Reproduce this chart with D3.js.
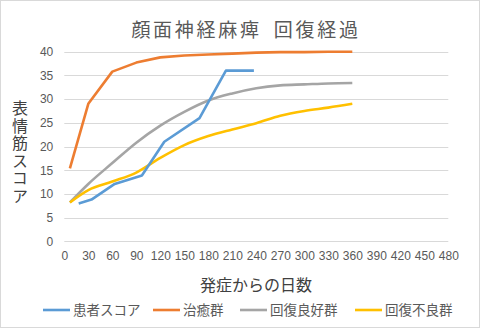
<!DOCTYPE html>
<html><head><meta charset="utf-8">
<script src="https://cdn.jsdelivr.net/npm/d3@7"></script>
<style>
html,body{margin:0;padding:0;background:#fff;}
svg{display:block;}
</style></head>
<body>
<svg id="c" width="480" height="328"></svg>
<script>
const seriesNames = ["患者スコア","治癒群","回復良好群","回復不良群"];
const seriesColors = ["#5B9BD5","#ED7D31","#A5A5A5","#FFC000"];
const patientDays = [18,34,63,97,125,169,202,237];
const patientScore = [8.0,8.8,12.1,13.9,21,26,36,36];
const groupDays = [7,30,60,90,120,150,180,210,240,270,300,330,360];
const curedScore = [15.4,29,35.8,37.7,38.8,39.2,39.4,39.6,39.8,39.9,39.9,40,40];
const goodScore = [8.2,12.1,16.5,20.8,24.4,27.3,29.7,31.2,32.3,32.9,33.1,33.3,33.4];
const poorScore = [8.2,10.8,12.6,14.5,17.6,20.3,22.2,23.6,24.9,26.5,27.5,28.2,29.0];
const xTicks = d3.range(0,481,30);
const yTicks = d3.range(0,41,5);
const title = "顔面神経麻痺\u2002回復経過";
const xTitle = "発症からの日数";
const yTitle = "表情筋スコア";

const svg = d3.select("#c");
svg.append("rect").attr("x",0.5).attr("y",0.5).attr("width",479).attr("height",327)
  .attr("fill","#fff").attr("stroke","#d9d9d9");

const x = d3.scaleLinear().domain([0,480]).range([64.3,448.3]);
const y = d3.scaleLinear().domain([0,40]).range([241.3,51.7]);
const jp = "'Noto Sans CJK JP','Noto Sans',sans-serif";
const num = "'Liberation Sans','DejaVu Sans',sans-serif";

// gridlines
svg.append("g").selectAll("line").data(yTicks).join("line")
  .attr("x1",x(0)).attr("x2",x(480))
  .attr("y1",d=>Math.round(y(d))+0.5).attr("y2",d=>Math.round(y(d))+0.5)
  .attr("stroke","#d9d9d9").attr("stroke-width",1);

// y axis labels
const ya = svg.append("g").attr("transform",`translate(${x(0)-11},0)`)
  .call(d3.axisLeft(y).tickValues(yTicks).tickSize(0).tickPadding(0));
ya.select(".domain").remove();
ya.selectAll("text").attr("fill","#595959").style("font-family",num).style("font-size","12px");

// x axis labels
const xa = svg.append("g").attr("transform",`translate(0,${y(0)+10})`)
  .call(d3.axisBottom(x).tickValues(xTicks).tickSize(0).tickPadding(0));
xa.select(".domain").remove();
xa.selectAll("text").attr("fill","#595959").style("font-family",num).style("font-size","12px");

const straight = d3.line().x(d=>x(d[0])).y(d=>y(d[1]));
const smooth = d3.line().x(d=>x(d[0])).y(d=>y(d[1])).curve(d3.curveMonotoneX);
const datasets = [
  d3.zip(patientDays,patientScore),
  d3.zip(groupDays,curedScore),
  d3.zip(groupDays,goodScore),
  d3.zip(groupDays,poorScore)
];
const gens = [straight, straight, smooth, smooth];
const drawOrder = [2,3,1,0];
drawOrder.forEach(i=>{
  svg.append("path").datum(datasets[i])
    .attr("d", gens[i](datasets[i]))
    .attr("fill","none").attr("stroke",seriesColors[i]).attr("stroke-width",2.6)
    .attr("stroke-linejoin","round").attr("stroke-linecap","butt");
});

// title
svg.append("text").attr("x",246).attr("y",37).attr("text-anchor","middle")
  .attr("fill","#595959").style("font-family",jp).style("font-size","19px")
  .style("letter-spacing","2.7px").text(title);

// x title
svg.append("text").attr("x",256).attr("y",291).attr("text-anchor","middle")
  .attr("fill","#404040").style("font-family",jp).style("font-size","16px").text(xTitle);

// y title (vertical)
svg.append("text").attr("x",20).attr("y",100)
  .attr("fill","#404040").style("font-family",jp).style("font-size","16px")
  .style("writing-mode","vertical-rl").style("text-orientation","upright")
  .style("letter-spacing","1.5px").text(yTitle);

// legend
const legX = [43,153,240,355];
const lg = svg.append("g");
seriesNames.forEach((n,i)=>{
  lg.append("line").attr("x1",legX[i]).attr("x2",legX[i]+27).attr("y1",310).attr("y2",310)
    .attr("stroke",seriesColors[i]).attr("stroke-width",2.6);
  lg.append("text").attr("x",legX[i]+30).attr("y",315).attr("fill","#595959")
    .style("font-family",jp).style("font-size","13.5px").text(n);
});
</script>
</body></html>
